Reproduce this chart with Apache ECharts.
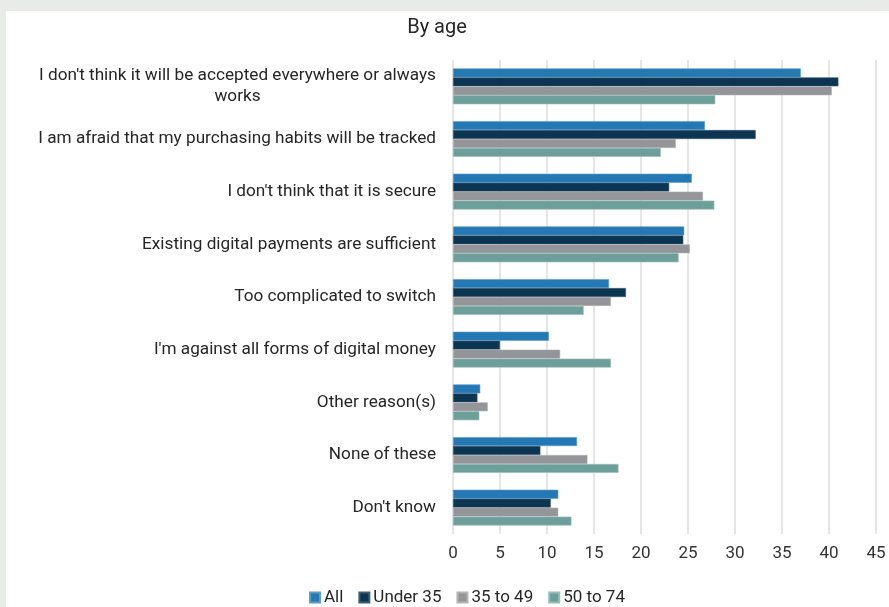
<!DOCTYPE html>
<html><head><meta charset="utf-8">
<script src="https://cdn.jsdelivr.net/npm/echarts@6/dist/echarts.min.js"></script>
<style>html,body{margin:0;padding:0;background:#fff}#c{width:889px;height:607px}</style>
</head><body><div id="c"></div>
<script>
const categories = [
  "I don't think it will be accepted everywhere or always\nworks",
  "I am afraid that my purchasing habits will be tracked",
  "I don't think that it is secure",
  "Existing digital payments are sufficient",
  "Too complicated to switch",
  "I'm against all forms of digital money",
  "Other reason(s)",
  "None of these",
  "Don't know"
];
const seriesNames = ["All", "Under 35", "35 to 49", "50 to 74"];
const allVals     = [37.0, 26.8, 25.4, 24.6, 16.6, 10.2, 2.9, 13.2, 11.2];
const under35     = [41.0, 32.2, 23.0, 24.5, 18.4, 5.0, 2.6, 9.3, 10.4];
const age35to49   = [40.3, 23.7, 26.6, 25.2, 16.8, 11.4, 3.7, 14.3, 11.2];
const age50to74   = [27.9, 22.1, 27.8, 24.0, 13.9, 16.8, 2.8, 17.6, 12.6];
const xTicks      = [0, 5, 10, 15, 20, 25, 30, 35, 40, 45];

const colors = ['#2479b4', '#0c3552', '#939598', '#6c9f99'];
const borders = ['#5d9bc8', '#3d5d75', '#b3b4b6', '#97bcb7'];
const FONT = 'Roboto';
const LSIZE = 17.2;

// measure first line width to centre the wrapped label block
const cv = document.createElement('canvas').getContext('2d');
cv.font = LSIZE + 'px ' + FONT;
const firstLineW = Math.ceil(cv.measureText(categories[0].split('\n')[0]).width);

const yData = categories.map((c, i) => i === 0
  ? { value: c, textStyle: { align: 'center', padding: [0, firstLineW, 0, 0] } }
  : c);

const vals = [allVals, under35, age35to49, age50to74];
const chart = echarts.init(document.getElementById('c'));
chart.setOption({
  backgroundColor: '#ffffff',
  animation: false,
  graphic: [
    { type: 'rect', left: 0, top: 0, shape: { width: 889, height: 11 }, style: { fill: '#e9ebe8' }, silent: true },
    { type: 'rect', left: 0, top: 0, shape: { width: 6, height: 607 }, style: { fill: '#e9ebe8' }, silent: true }
  ],
  title: {
    text: 'By age', left: 432, top: 13, textAlign: 'center',
    textStyle: { fontFamily: FONT, fontSize: 20, fontWeight: 'normal', color: '#262626' }
  },
  legend: {
    data: seriesNames, left: 304, top: 584, icon: 'rect', itemWidth: 10, itemHeight: 10, itemGap: 15,
    textStyle: { fontFamily: FONT, fontSize: 17, color: '#262626', padding: [0, 0, 0, -1] }
  },
  grid: { left: 453, right: 13, top: 60, bottom: 73, containLabel: false },
  xAxis: {
    type: 'value', min: xTicks[0], max: xTicks[xTicks.length - 1], interval: 5,
    axisLine: { show: false }, axisTick: { show: false },
    splitLine: { lineStyle: { color: '#dedede', width: 1.5 } },
    axisLabel: { fontFamily: FONT, fontSize: 17, color: '#333', margin: 11 }
  },
  yAxis: {
    type: 'category', inverse: true, data: yData,
    axisLine: { show: false }, axisTick: { show: false },
    axisLabel: { fontFamily: FONT, fontSize: LSIZE, color: '#262626', margin: 17, lineHeight: 21, interval: 0 }
  },
  series: seriesNames.map((n, i) => ({
    name: n, type: 'bar', data: vals[i],
    barGap: '0%', barCategoryGap: '32%',
    itemStyle: { color: colors[i], borderColor: borders[i], borderWidth: 0.6 }
  }))
});
</script></body></html>
